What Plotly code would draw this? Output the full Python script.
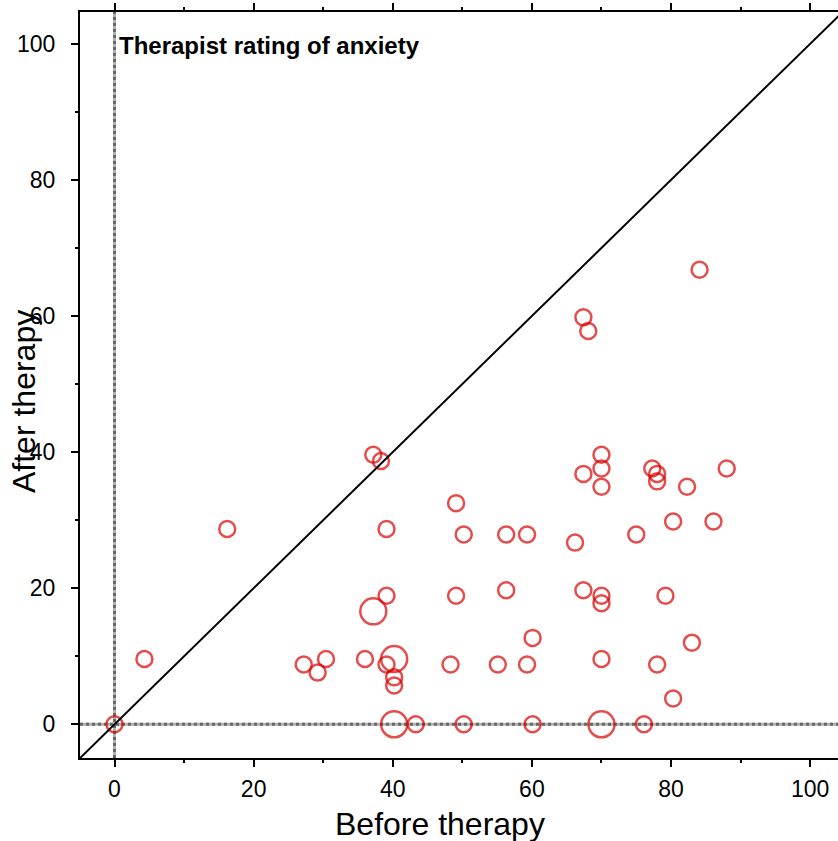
import plotly.graph_objects as go

# Data: before / after therapy anxiety ratings; count = number of patients at the point
before = [0, 4.3, 16.2, 27.2, 29.2, 30.4, 36.0, 37.2, 37.2, 38.3, 39.1, 39.1, 39.1, 40.2, 40.2,
          40.2, 40.2, 43.3, 48.3, 49.1, 49.1, 50.2, 50.2, 55.1, 56.3, 56.3, 59.3, 59.3, 60.1,
          60.1, 66.2, 67.4, 68.1, 67.4, 67.4, 70.0, 70.0, 70.0, 70.0, 70.0, 70.0, 70.0, 75.0,
          76.1, 77.3, 78.0, 78.0, 78.0, 79.2, 80.3, 80.3, 82.3, 83.0, 84.1, 86.1, 88.0]
after = [0, 9.6, 28.7, 8.8, 7.6, 9.6, 9.6, 16.6, 39.6, 38.7, 28.7, 18.9, 8.8, 9.6, 6.9,
         5.7, 0, 0, 8.8, 18.9, 32.5, 27.9, 0, 8.8, 27.9, 19.7, 27.9, 8.8, 12.7,
         0, 26.7, 59.8, 57.8, 36.8, 19.7, 39.6, 37.6, 34.9, 18.9, 17.8, 9.6, 0, 27.9,
         0, 37.6, 36.8, 35.7, 8.8, 18.9, 29.8, 3.8, 34.9, 12.0, 66.8, 29.8, 37.6]
count = [1, 1, 1, 1, 1, 1, 1, 2, 1, 1, 1, 1, 1, 2, 1,
         1, 2, 1, 1, 1, 1, 1, 1, 1, 1, 1, 1, 1, 1,
         1, 1, 1, 1, 1, 1, 1, 1, 1, 1, 1, 1, 2, 1,
         1, 1, 1, 1, 1, 1, 1, 1, 1, 1, 1, 1, 1]

x_range = [-4.96, 104.0]
y_range = [-4.95, 104.67]
tick_vals = [0, 20, 40, 60, 80, 100]
tick_text = ["0", "20", "40", "60", "80", "100"]

RED = "rgb(218,0,0)"
FONT = "Liberation Sans, Arial, sans-serif"

sizes = [16 if c == 1 else 26 for c in count]

fig = go.Figure()
fig.add_trace(go.Scatter(
    x=before, y=after, mode="markers",
    marker=dict(symbol="circle-open", size=sizes, color=RED, line=dict(width=2.5, color=RED)),
    hoverinfo="x+y", showlegend=False,
))

shapes = []
# gray reference lines at zero
for dash, col in [("solid", "#b0b0b0"), ("dot", "#686868")]:
    shapes.append(dict(type="line", xref="x", yref="paper", x0=0, x1=0, y0=0, y1=1,
                       line=dict(color=col, width=3, dash=dash), layer="below"))
    shapes.append(dict(type="line", xref="paper", yref="y", x0=0, x1=1, y0=0, y1=0,
                       line=dict(color=col, width=3, dash=dash), layer="below"))
# identity line
lo = min(x_range[0], y_range[0])
hi = max(x_range[1], y_range[1])
shapes.append(dict(type="line", xref="x", yref="y", x0=lo, y0=lo, x1=hi, y1=hi,
                   line=dict(color="black", width=2), layer="above"))

axis_common = dict(
    showgrid=False, zeroline=False, showline=True, linecolor="black", linewidth=2,
    ticks="outside", ticklen=7, tickwidth=2, tickcolor="black",
    tickfont=dict(family=FONT, size=23, color="black"),
    tickmode="array", tickvals=tick_vals, ticktext=tick_text,
    minor=dict(ticks="outside", ticklen=3, tickwidth=2, tickcolor="black", dtick=10, tick0=0, showgrid=False),
)

fig.update_layout(
    width=838, height=841,
    margin=dict(l=80, r=0, t=12, b=83),
    paper_bgcolor="white", plot_bgcolor="white",
    xaxis=dict(range=x_range, mirror="ticks", ticklabelstandoff=2, **axis_common),
    yaxis=dict(range=y_range, mirror=False, ticklabelstandoff=11, **axis_common),
    shapes=shapes,
    annotations=[
        dict(text="<b>Therapist rating of anxiety</b>", xref="paper", yref="paper",
             x=(117 - 80) / 758, y=(758 - 45) / 746, xanchor="left", yanchor="middle",
             showarrow=False, font=dict(family=FONT, size=24, color="black")),
        dict(text="Before therapy", xref="paper", yref="paper",
             x=(440 - 80) / 758, y=(758 - 824) / 746, xanchor="center", yanchor="middle",
             showarrow=False, font=dict(family=FONT, size=32, color="black")),
        dict(text="After therapy", xref="paper", yref="paper", textangle=-90,
             x=(24 - 80) / 758, y=(758 - 402) / 746, xanchor="center", yanchor="middle",
             showarrow=False, font=dict(family=FONT, size=32, color="black")),
    ],
)

fig.write_html("out.html", config={"displayModeBar": False},
               post_script="document.body.style.margin='0';document.body.style.overflow='hidden';")
